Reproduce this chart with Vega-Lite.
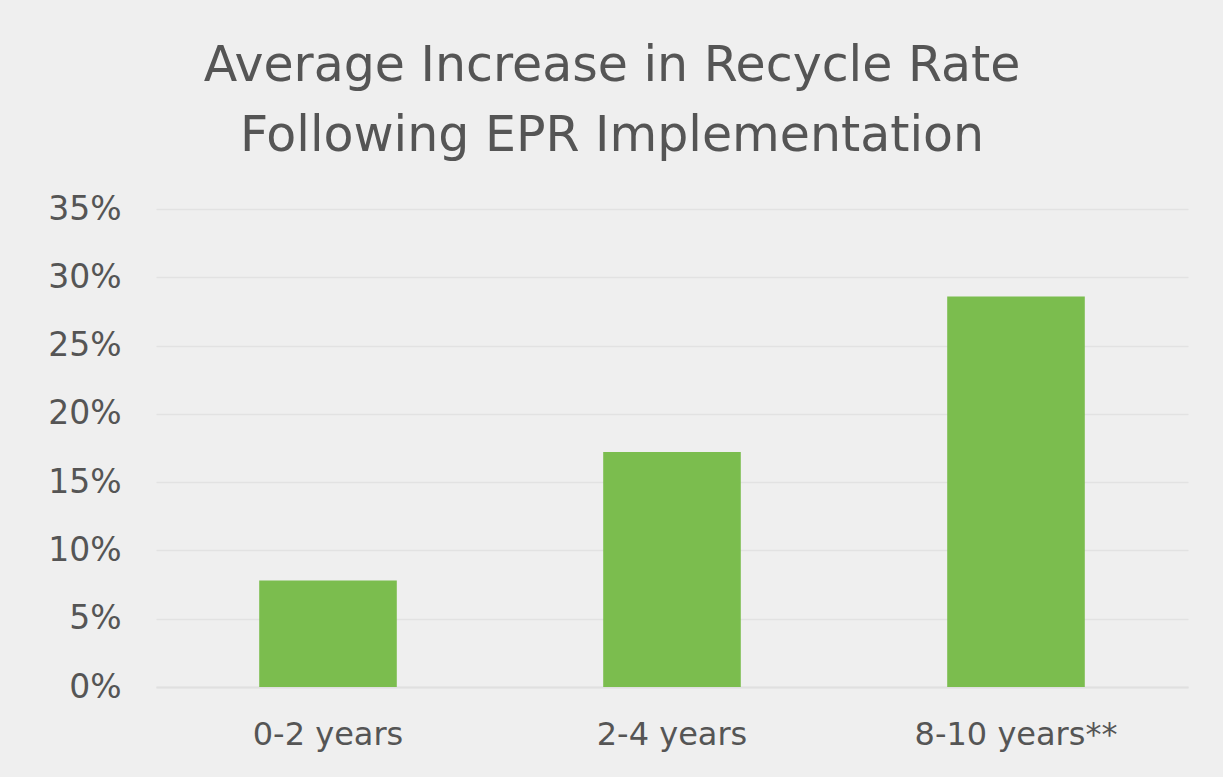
{
  "$schema": "https://vega.github.io/schema/vega-lite/v6.json",
  "width": 1032,
  "height": 478,
  "autosize": {"type": "none"},
  "padding": {"left": 156, "top": 209, "right": 35, "bottom": 90},
  "background": "#efefef",
  "title": {
    "text": ["Average Increase in Recycle Rate", "Following EPR Implementation"],
    "font": "DejaVu Sans",
    "fontSize": 49,
    "fontWeight": "normal",
    "color": "#555555",
    "lineHeight": 70,
    "anchor": "middle",
    "baseline": "alphabetic",
    "dx": -60,
    "dy": 63,
    "offset": 56
  },
  "data": {
    "values": [
      {"period": "0-2 years", "increase": 0.078},
      {"period": "2-4 years", "increase": 0.172},
      {"period": "8-10 years**", "increase": 0.286}
    ]
  },
  "mark": {"type": "bar", "color": "#7bbd4e"},
  "encoding": {
    "x": {
      "field": "period",
      "type": "nominal",
      "sort": null,
      "title": null,
      "scale": {"paddingInner": 0.6, "paddingOuter": 0.3},
      "axis": {
        "labelAngle": 0,
        "labelFont": "DejaVu Sans",
        "labelFontSize": 32,
        "labelColor": "#555555",
        "labelPadding": 32,
        "labelLimit": 0,
        "ticks": false,
        "domain": true,
        "domainColor": "#e0e0e0",
        "domainWidth": 2,
        "grid": false
      }
    },
    "y": {
      "field": "increase",
      "type": "quantitative",
      "title": null,
      "scale": {"domain": [0, 0.35], "nice": false},
      "axis": {
        "values": [0, 0.05, 0.1, 0.15, 0.2, 0.25, 0.3, 0.35],
        "format": ".0%",
        "labelFont": "DejaVu Sans",
        "labelFontSize": 33,
        "labelColor": "#555555",
        "labelPadding": 35,
        "ticks": false,
        "domain": false,
        "grid": true,
        "gridColor": "#e2e2e2",
        "gridWidth": 1.5
      }
    }
  },
  "config": {"view": {"stroke": null}}
}
